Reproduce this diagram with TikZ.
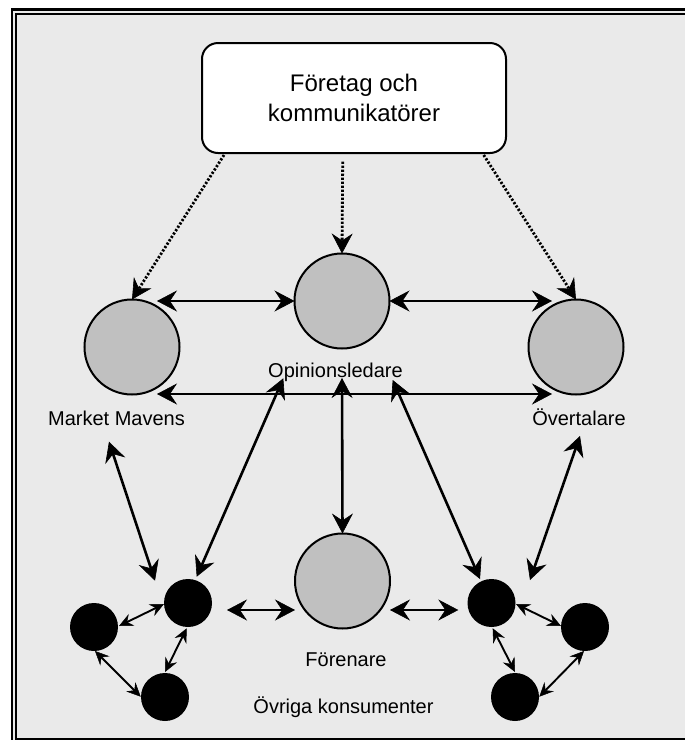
\documentclass[tikz,border=0pt]{standalone}
\usepackage{fontspec}
\setmainfont{Liberation Sans}
\usetikzlibrary{arrows.meta,calc}
\definecolor{bg}{HTML}{EAEAEA}
\definecolor{circ}{HTML}{C0C0C0}
\begin{document}
\begin{tikzpicture}[x=1pt,y=-1pt,
  gcirc/.style={circle,draw=black,line width=2pt,fill=circ,minimum size=95pt,inner sep=0pt,outer sep=0pt},
  bcirc/.style={circle,fill=black,minimum size=48pt,inner sep=0pt,outer sep=0pt},
  lab/.style={font=\fontsize{20}{24}\selectfont,anchor=base,inner sep=0pt},
  bigtip/.tip={Stealth[length=20pt,width=21pt,inset=7pt,line width=0.6pt]},
  smalltip/.tip={Stealth[length=14pt,width=13pt,inset=5pt,line width=0.5pt]},
  big/.style={line width=2.6pt,bigtip-bigtip},
  small/.style={line width=1.9pt,smalltip-smalltip},
  dotarrow/.style={line width=2.8pt,dash pattern=on 2.2pt off 1.8pt,-bigtip},
  frameline/.style={line cap=butt}
]
\fill[white] (0,0) rectangle (685,740);
% frame
\fill[bg] (12.2,9.3) rectangle (685,740);
\draw[frameline,line width=2.5pt] (12.2,740) -- (12.2,9.3) -- (685,9.3);
\draw[frameline,line width=1.7pt] (15.8,740) -- (15.8,13.8) -- (685,13.8);
\draw[frameline,line width=1.7pt] (15.8,739.1) -- (685,739.1);

% top box
\node[draw,line width=2pt,fill=white,rounded corners=16pt,minimum width=304pt,minimum height=110pt,inner sep=0pt,
      align=center,font=\fontsize{24}{30.7}\selectfont] (box) at (354,98) {Företag och\\kommunikatörer};

% grey circles
\node[gcirc] (mm)  at (132,347) {};
\node[gcirc] (opi) at (342,301) {};
\node[gcirc] (ovt) at (576,347) {};
\node[gcirc] (for) at (342.5,581) {};

% black circles
\node[bcirc] (b1) at (188,603) {};
\node[bcirc] (b2) at (94,627) {};
\node[bcirc] (b3) at (165,697) {};
\node[bcirc] (r1) at (491.5,603) {};
\node[bcirc] (r2) at (585,627) {};
\node[bcirc] (r3) at (515,697) {};

% labels
\node[lab] (mmlab)  at (116.5,425) {Market Mavens};
\node[lab] (opilab) at (335.5,377) {Opinionsledare};
\node[lab] (ovtlab) at (579,425) {Övertalare};
\node[lab] (forlab) at (346,666) {Förenare};
\node[lab] (ovrlab) at (343.5,713) {Övriga konsumenter};

% dotted arrows
\draw[dotarrow] ($(box.south west)+(23,1)$) -- (mm.north);
\draw[dotarrow] ($(box.south)+(-11.3,7.7)$) -- (opi.north);
\draw[dotarrow] ($(box.south east)+(-23.3,1)$) -- (ovt.north);

% big double arrows
\draw[big] ($(mm.center)+(25,-46)$) -- (opi.west);
\draw[big] (opi.east) -- ($(ovt.center)+(-24,-46)$);
\draw[big] ($(mm.center)+(25,47)$) -- ($(ovt.center)+(-24,47)$);
\draw[big] ($(opi.center)+(0,77)$) -- (for.north);
\draw[big] ($(opi.center)+(-58.7,77.3)$) -- ($(b1.center)+(8.7,-26.3)$);
\draw[big] ($(opi.center)+(50.7,79)$) -- ($(r1.center)+(-11.5,-24)$);
\draw[big] ($(mm.center)+(-23,94.7)$) -- ($(b1.center)+(-33,-22.3)$);
\draw[big] ($(ovt.center)+(4,89)$) -- ($(r1.center)+(38.5,-23)$);
\draw[big] ($(b1.center)+(39,7)$) -- ($(for.center)+(-47.5,29)$);
\draw[big] ($(r1.center)+(-33.2,7)$) -- ($(for.center)+(47.5,29)$);

% small double arrows
\draw[small] ($(b1.center)+(-24,1)$) -- ($(b2.center)+(25,-1)$);
\draw[small] ($(b1.center)+(-1.3,25.3)$) -- ($(b3.center)+(0,-25)$);
\draw[small] ($(b2.center)+(1,24)$) -- ($(b3.center)+(-24.3,-0.3)$);
\draw[small] ($(r1.center)+(24.5,1)$) -- ($(r2.center)+(-24,-1)$);
\draw[small] ($(r1.center)+(1.2,25.3)$) -- ($(r3.center)+(0,-25)$);
\draw[small] ($(r2.center)+(-1,24)$) -- ($(r3.center)+(24.3,-0.3)$);

\pgfresetboundingbox
\path[use as bounding box] (0,0) rectangle (685,740);
\end{tikzpicture}
\end{document}
